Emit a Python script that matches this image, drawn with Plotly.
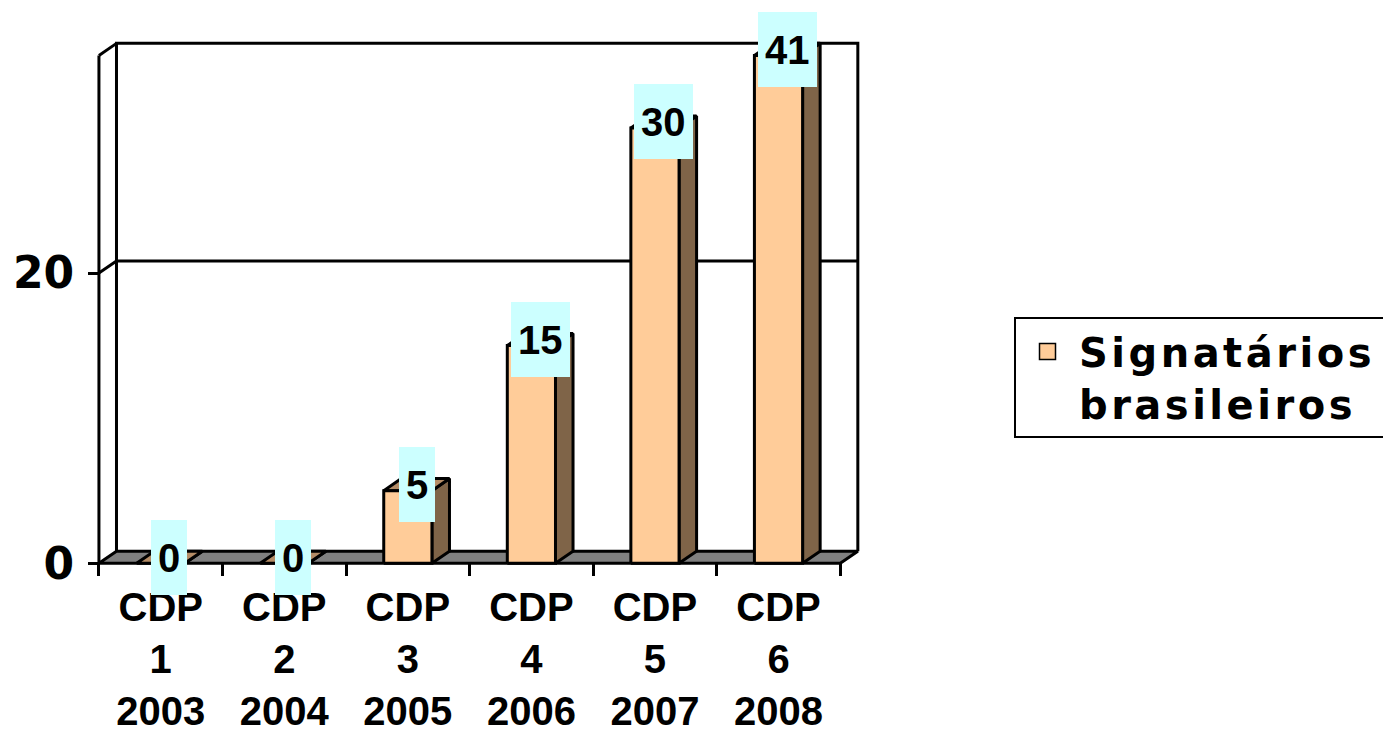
import plotly.graph_objects as go

# ---- data ----
categories = ["CDP<br>1<br>2003", "CDP<br>2<br>2004", "CDP<br>3<br>2005",
              "CDP<br>4<br>2006", "CDP<br>5<br>2007", "CDP<br>6<br>2008"]
values = [0, 0, 5, 15, 30, 41]
y_tickvals = [0, 20]
y_max = 35
gridline_value = 20
series_name = "Signatários<br>brasileiros"

# ---- style / geometry ----
FRONT = "#FFCC99"
SIDE = "#7F6448"
TOP = "#B48C66"
FLOOR = "#808080"
LABEL_BG = "#CCFFFF"
LW = 3
DX = 0.142   # depth offset (category units)
DY = 0.83    # depth offset (value units)
HW = 0.195   # half width of bar front face
n = len(values)

OFF = 8                      # page body margin
W_PX, H_PX = 1391 - OFF, 733 - OFF
X0, X1 = -0.04, n + DX + 0.058
Y0, Y1 = -0.4, 36.2
px_x = 123.5
px_y = 14.5
left = (99 - OFF) - (0 - X0) * px_x
right = left + (X1 - X0) * px_x
bottom = (563 - OFF) + (0 - Y0) * px_y
top = bottom - (Y1 - Y0) * px_y

fig = go.Figure()


def poly(xs, ys, fill, lw=LW):
    fig.add_trace(go.Scatter(x=xs + [xs[0]], y=ys + [ys[0]], mode="lines",
                             fill="toself", fillcolor=fill,
                             line=dict(color="black", width=lw),
                             hoverinfo="skip", showlegend=False))


def seg(xs, ys, lw=LW):
    fig.add_trace(go.Scatter(x=xs, y=ys, mode="lines",
                             line=dict(color="black", width=lw),
                             hoverinfo="skip", showlegend=False))


# back wall and left wall edges
seg([DX, DX, n + DX, n + DX], [DY, y_max + DY, y_max + DY, DY])
seg([0, DX, n + DX], [gridline_value, gridline_value + DY, gridline_value + DY])
seg([0, DX], [y_max, y_max + DY])
seg([0, 0], [0, y_max])

# floor
poly([0, DX, n + DX, n], [0, DY, DY, 0], FLOOR)

# bars
for i, v in enumerate(values):
    h = min(v, y_max)
    xc = i + 0.5
    xl, xr = xc - HW, xc + HW
    poly([xr, xr + DX, xr + DX, xr], [0, DY, h + DY, h], SIDE, LW)
    poly([xl, xl + DX, xr + DX, xr], [h, h + DY, h + DY, h], TOP, LW)
    if h > 0:
        poly([xl, xl, xr, xr], [0, h, h, 0], FRONT, LW)
    fig.add_annotation(x=xc + DX / 2, y=h + DY / 2, xref="x", yref="y",
                       text=str(v), showarrow=False, bgcolor=LABEL_BG,
                       borderpad=7, borderwidth=0, height=61,
                       font=dict(family="Liberation Sans", size=40,
                                 color="black", weight="bold"))

# legend entry
fig.add_trace(go.Scatter(x=[None], y=[None], mode="markers", name=series_name,
                         marker=dict(symbol="square", size=16, color=FRONT,
                                     line=dict(color="black", width=1.5)),
                         showlegend=True))

fig.update_layout(
    width=W_PX, height=H_PX,
    paper_bgcolor="white", plot_bgcolor="white",
    margin=dict(l=left, r=W_PX - right, t=top, b=H_PX - bottom, autoexpand=False),
    showlegend=True,
    legend=dict(orientation="h", xref="container", yref="container",
                x=(1014 - OFF) / W_PX, y=1 - (317 - OFF) / H_PX,
                xanchor="left", yanchor="top",
                bordercolor="black", borderwidth=2, bgcolor="white",
                entrywidth=380, itemwidth=53, valign="top",
                font=dict(family="DejaVu Sans", size=40, color="black", weight="bold")),
    xaxis=dict(range=[X0, X1], anchor="free", position=(0 - Y0) / (Y1 - Y0),
               tickmode="array", tickvals=[i + 0.5 for i in range(n)],
               ticktext=categories, ticks="", showline=False, showgrid=False,
               zeroline=False, ticklabelstandoff=17,
               tickfont=dict(family="Liberation Sans", size=40, color="black", weight="bold"),
               minor=dict(tickmode="array", tickvals=list(range(n + 1)),
                          ticks="outside", ticklen=12, tickwidth=LW, tickcolor="black",
                          showgrid=False)),
    yaxis=dict(range=[Y0, Y1], anchor="free", position=(0 - X0) / (X1 - X0),
               tickmode="array", tickvals=y_tickvals, ticks="outside",
               ticklen=11, tickwidth=LW, tickcolor="black",
               showline=False, showgrid=False, zeroline=False,
               ticklabelstandoff=5,
               tickfont=dict(family="DejaVu Sans", size=44, color="black", weight="bold")),
)

letter_spacing_js = (
    "var s=document.createElement('style');"
    "s.textContent='.legendtext{letter-spacing:3.5px}';"
    "document.head.appendChild(s);"
)

fig.write_html("out.html", post_script=letter_spacing_js)
